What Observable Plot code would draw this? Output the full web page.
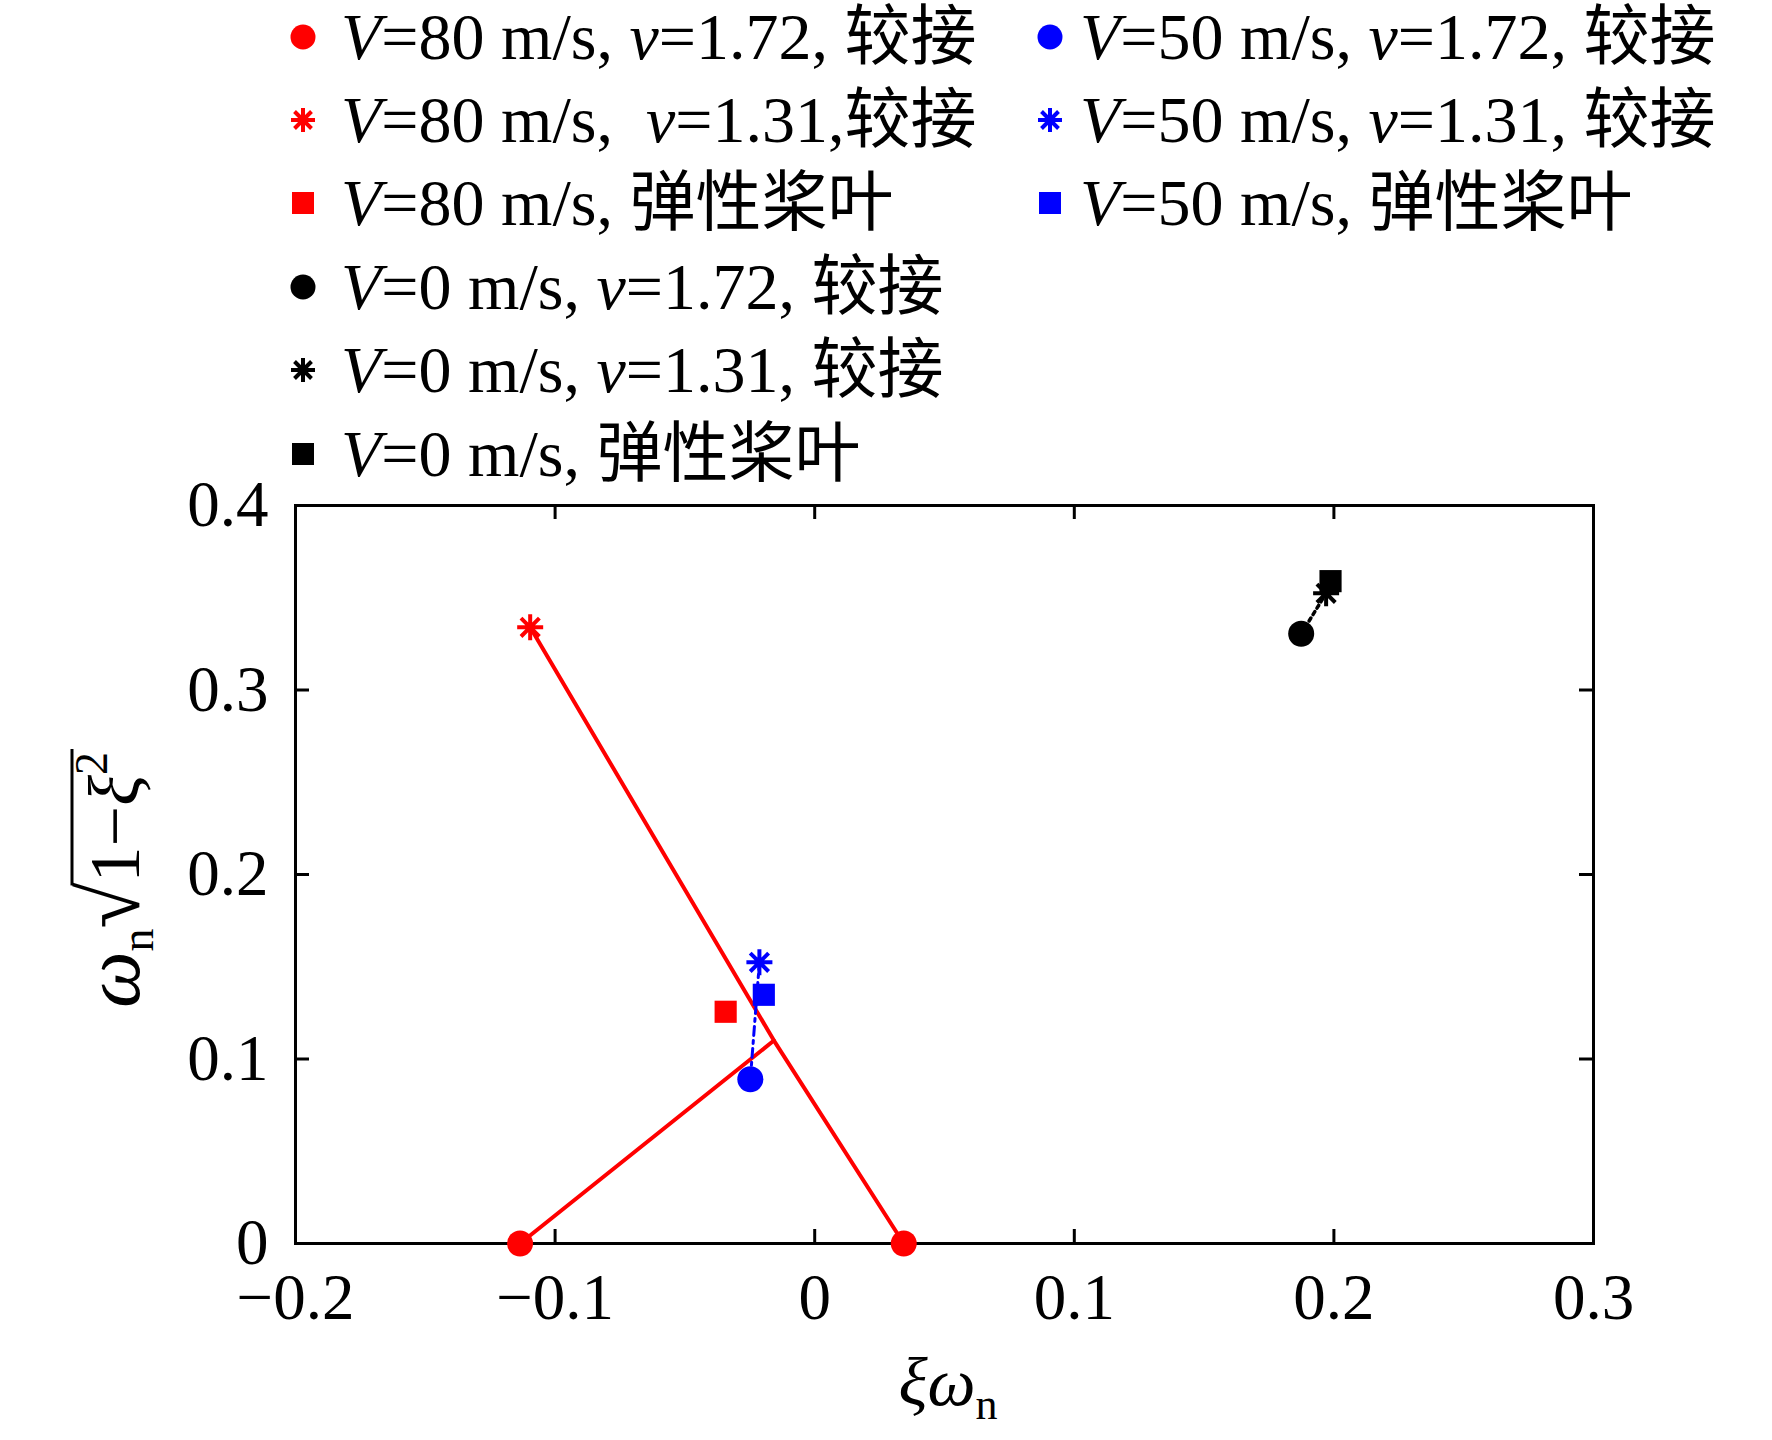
<!DOCTYPE html>
<html><head><meta charset="utf-8">
<script src="https://cdn.jsdelivr.net/npm/d3@7"></script>
<script src="https://cdn.jsdelivr.net/npm/@observablehq/plot@0.6"></script>
<style>
html,body{margin:0;padding:0;background:#fff;}
#page{position:relative;width:1772px;height:1440px;overflow:hidden;font-family:"Liberation Serif","Times New Roman","Noto Sans CJK SC",serif;}
#legend{position:absolute;left:0;top:0;width:1772px;height:440px;}
.row{position:absolute;height:84px;line-height:84px;font-size:66px;white-space:pre;color:#000;}
.mk{position:absolute;}
#chart{position:absolute;left:0;top:440px;}
</style></head>
<body><div id="page"><div id="legend"></div><div id="chart"></div></div>
<script>
// ---- data ----
const xTicks = [-0.2, -0.1, 0, 0.1, 0.2, 0.3];
const yTicks = [0, 0.1, 0.2, 0.3, 0.4];
const xInnerTicks = [-0.1, 0, 0.1, 0.2];
const yInnerTicks = [0.1, 0.2, 0.3];

const seriesKeys   = ["80-1.72", "80-1.31", "80-el", "50-1.72", "50-1.31", "50-el", "0-1.72", "0-1.31", "0-el"];
const seriesLabels = ["V=80 m/s, v=1.72, 较接", "V=80 m/s,  v=1.31,较接", "V=80 m/s, 弹性桨叶",
                      "V=50 m/s, v=1.72, 较接", "V=50 m/s, v=1.31, 较接", "V=50 m/s, 弹性桨叶",
                      "V=0 m/s, v=1.72, 较接", "V=0 m/s, v=1.31, 较接", "V=0 m/s, 弹性桨叶"];
const seriesColors = ["#ff0000", "#ff0000", "#ff0000", "#0000ff", "#0000ff", "#0000ff", "#000000", "#000000", "#000000"];
const seriesShapes = ["circle", "star", "square", "circle", "star", "square", "circle", "star", "square"];

// points (xi*omega_n, omega_n*sqrt(1-xi^2))
const pointSeries = ["80-1.72", "80-1.72", "80-1.31", "80-el", "50-1.72", "50-1.31", "50-el", "0-1.72", "0-1.31", "0-el"];
const pointX = [-0.1135, 0.0343, -0.1096, -0.0343, -0.0248, -0.0213, -0.0196, 0.1874, 0.1970, 0.1987];
const pointY = [0, 0, 0.334, 0.1256, 0.089, 0.1524, 0.1348, 0.3305, 0.3524, 0.359];

// connecting lines
const red80LineAX = [-0.1096, -0.0157, 0.0343];
const red80LineAY = [0.334, 0.110, 0];
const red80LineBX = [-0.1135, -0.0157];
const red80LineBY = [0, 0.110];
const blue50LineX = [-0.0248, -0.0213];
const blue50LineY = [0.089, 0.1524];
const black0LineX = [0.1874, 0.1970];
const black0LineY = [0.3305, 0.3524];

// ---- helpers ----
const asterisk = {draw(ctx, size) {
  const r = Math.sqrt(size / Math.PI), d = r * Math.SQRT1_2;
  ctx.moveTo(0, -r); ctx.lineTo(0, r);
  ctx.moveTo(-r, 0); ctx.lineTo(r, 0);
  ctx.moveTo(-d, -d); ctx.lineTo(d, d);
  ctx.moveTo(-d, d); ctx.lineTo(d, -d);
}};
const fmt = d => d === 0 ? "0" : d3.format(".1f")(d).replace("-", "\u2212");
const colorOf = k => seriesColors[seriesKeys.indexOf(k)];
const shapeOf = k => seriesShapes[seriesKeys.indexOf(k)];
const idx = pointX.map((_, i) => i);
const idxShape = s => idx.filter(i => shapeOf(pointSeries[i]) === s);

const W = 1772, H = 1000, mL = 295, mR = 179, mT = 65, mB = 197;
const fW = W - mL - mR, fH = H - mT - mB;

const plot = Plot.plot({
  width: W, height: H,
  marginLeft: mL, marginRight: mR, marginTop: mT, marginBottom: mB,
  x: {domain: [-0.2, 0.3], label: null},
  y: {domain: [0, 0.4], label: null},
  style: {fontFamily: "'Liberation Serif','Times New Roman',serif", fontSize: "65px", color: "black", background: "transparent", overflow: "visible"},
  marks: [
    Plot.axisX(xTicks, {tickSize: 0, tickPadding: 29, tickFormat: fmt, label: null, fontSize: 65}),
    Plot.axisY(yTicks, {tickSize: 0, tickPadding: 27, tickFormat: fmt, label: null, fontSize: 65}),
    Plot.ruleX(xInnerTicks, {x: d => d, insetTop: fH - 14, strokeWidth: 3}),
    Plot.ruleX(xInnerTicks, {x: d => d, insetBottom: fH - 14, strokeWidth: 3}),
    Plot.ruleY(yInnerTicks, {y: d => d, insetRight: fW - 14, strokeWidth: 3}),
    Plot.ruleY(yInnerTicks, {y: d => d, insetLeft: fW - 14, strokeWidth: 3}),
    Plot.frame({strokeWidth: 3}),
    Plot.line({length: red80LineAX.length}, {x: red80LineAX, y: red80LineAY, stroke: "#ff0000", strokeWidth: 4}),
    Plot.line({length: red80LineBX.length}, {x: red80LineBX, y: red80LineBY, stroke: "#ff0000", strokeWidth: 4}),
    Plot.line({length: blue50LineX.length}, {x: blue50LineX, y: blue50LineY, stroke: "#0000ff", strokeWidth: 3, strokeDasharray: "9,5,3,5"}),
    Plot.line({length: black0LineX.length}, {x: black0LineX, y: black0LineY, stroke: "#000000", strokeWidth: 3.5, strokeDasharray: "3.5,4"}),
    Plot.dot(idxShape("circle"), {x: i => pointX[i], y: i => pointY[i], r: 13, symbol: "circle", fill: i => colorOf(pointSeries[i]), stroke: "none"}),
    Plot.dot(idxShape("square"), {x: i => pointX[i], y: i => pointY[i], r: 12.5, symbol: "square", fill: i => colorOf(pointSeries[i]), stroke: "none"}),
    Plot.dot(idxShape("star"), {x: i => pointX[i], y: i => pointY[i], r: 13, symbol: asterisk, fill: "none", stroke: i => colorOf(pointSeries[i]), strokeWidth: 4})
  ],
  color: {type: "identity"}
});
document.getElementById("chart").appendChild(plot);

// axis labels (rich text)
const svg = d3.select(plot);
const FF = "'Liberation Serif','Times New Roman',serif";
// x label: ξω_n
const xl = svg.append("text").attr("x", 948).attr("y", 965).attr("text-anchor", "middle")
  .attr("font-family", FF).attr("font-size", 68).attr("fill", "black");
xl.append("tspan").attr("font-style", "italic").text("ξω");
xl.append("tspan").attr("font-size", 44).attr("dy", 14).text("n");

// y label: ω_n √(1−ξ²)
const yg = svg.append("g").attr("transform", `translate(139, ${mT + fH / 2 + 6}) rotate(-90)`);
const yl = yg.append("text").attr("x", 0).attr("y", 0).attr("text-anchor", "middle")
  .attr("font-family", FF).attr("font-size", 72).attr("fill", "black");
yl.append("tspan").attr("font-style", "italic").attr("font-size", 80).text("ω");
yl.append("tspan").attr("font-size", 46).attr("dy", 14).text("n");
yl.append("tspan").attr("dy", -14).attr("font-size", 84).text("√");
yl.append("tspan").text("1−");
yl.append("tspan").attr("font-style", "italic").text("ξ");
yl.append("tspan").attr("font-size", 46).attr("dy", -32).text("2");
try {
  const node = yl.node();
  const e2 = node.getExtentOfChar(2), e6 = node.getExtentOfChar(6);
  const x1 = e2.x + e2.width - 3, x2 = e6.x + e6.width + 3;
  yg.append("line").attr("x1", x1).attr("x2", x2).attr("y1", -67).attr("y2", -67)
    .attr("stroke", "black").attr("stroke-width", 3);
} catch (e) {}

// ---- legend ----
const legend = document.getElementById("legend");
const rowY = [37, 120, 203, 287, 370, 454];
const leftCol = ["80-1.72", "80-1.31", "80-el", "0-1.72", "0-1.31", "0-el"];
const rightCol = ["50-1.72", "50-1.31", "50-el"];
function markerSVG(shape, color) {
  const s = 32, c = 16;
  let inner = "";
  if (shape === "circle") inner = `<circle cx="${c}" cy="${c}" r="12.5" fill="${color}"/>`;
  else if (shape === "square") inner = `<rect x="${c - 11}" y="${c - 11}" width="22" height="22" fill="${color}"/>`;
  else {
    const r = 12, d = r * Math.SQRT1_2;
    inner = `<path d="M${c},${c - r}L${c},${c + r}M${c - r},${c}L${c + r},${c}M${c - d},${c - d}L${c + d},${c + d}M${c - d},${c + d}L${c + d},${c - d}" stroke="${color}" stroke-width="4" fill="none"/>`;
  }
  return `<svg width="${s}" height="${s}" viewBox="0 0 ${s} ${s}">${inner}</svg>`;
}
function labelHTML(t) {
  return t.replace(/^V/, "<i>V</i>").replace(/ v=/, " <i>v</i>=");
}
function addItem(key, row, mx, tx) {
  const i = seriesKeys.indexOf(key);
  const m = document.createElement("div");
  m.className = "mk"; m.style.left = (mx - 16) + "px"; m.style.top = (rowY[row] - 16) + "px";
  m.innerHTML = markerSVG(seriesShapes[i], seriesColors[i]);
  legend.appendChild(m);
  const t = document.createElement("div");
  t.className = "row"; t.style.left = tx + "px"; t.style.top = (rowY[row] - 42) + "px";
  t.innerHTML = labelHTML(seriesLabels[i]);
  legend.appendChild(t);
}
leftCol.forEach((k, r) => addItem(k, r, 303, 341));
rightCol.forEach((k, r) => addItem(k, r, 1050, 1080));
</script>
</body></html>
